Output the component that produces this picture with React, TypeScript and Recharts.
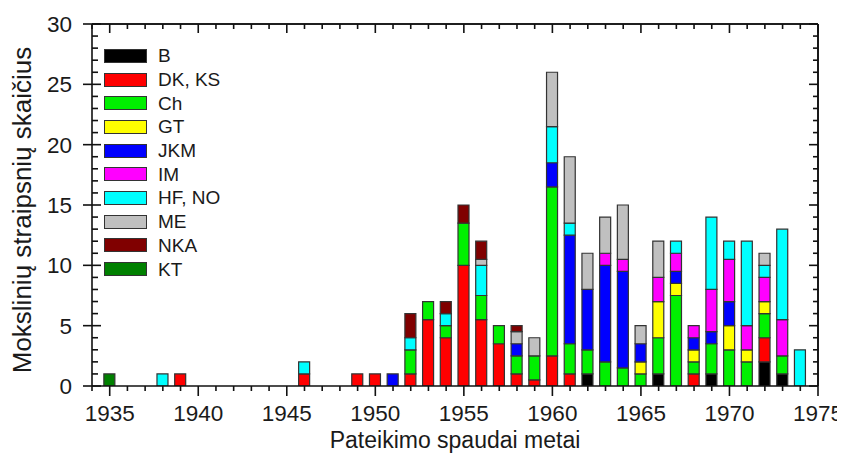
import React from "react";
import { ComposedChart, Bar, Line, XAxis, YAxis, Legend, ReferenceLine } from "recharts";

const years = [1935, 1938, 1939, 1946, 1949, 1950, 1951, 1952, 1953, 1954, 1955, 1956, 1957, 1958, 1959, 1960, 1961, 1962, 1963, 1964, 1965, 1966, 1967, 1968, 1969, 1970, 1971, 1972, 1973, 1974];

const seriesB   = [0, 0, 0, 0, 0, 0, 0, 0, 0, 0, 0, 0, 0, 0, 0, 0, 0, 1, 0, 0, 0, 1, 0, 0, 1, 0, 0, 2, 1, 0];
const seriesDK  = [0, 0, 1, 1, 1, 1, 0, 1, 5.5, 4, 10, 5.5, 3.5, 1, 0.5, 2.5, 1, 0, 0, 0, 0, 0, 0, 1, 0, 0, 0, 2, 0, 0];
const seriesCh  = [0, 0, 0, 0, 0, 0, 0, 2, 1.5, 1, 3.5, 2, 1.5, 1.5, 2, 14, 2.5, 2, 2, 1.5, 1, 3, 7.5, 1, 2.5, 3, 2, 2, 1.5, 0];
const seriesGT  = [0, 0, 0, 0, 0, 0, 0, 0, 0, 0, 0, 0, 0, 0, 0, 0, 0, 0, 0, 0, 1, 3, 1, 1, 0, 2, 1, 1, 0, 0];
const seriesJKM = [0, 0, 0, 0, 0, 0, 1, 0, 0, 0, 0, 0, 0, 1, 0, 2, 9, 5, 8, 8, 1.5, 0, 1, 1, 1, 2, 0, 0, 0, 0];
const seriesIM  = [0, 0, 0, 0, 0, 0, 0, 0, 0, 0, 0, 0, 0, 0, 0, 0, 0, 0, 1, 1, 0, 2, 1.5, 1, 3.5, 3.5, 2, 2, 3, 0];
const seriesHF  = [0, 1, 0, 1, 0, 0, 0, 1, 0, 1, 0, 2.5, 0, 0, 0, 3, 1, 0, 0, 0, 0, 0, 1, 0, 6, 1.5, 7, 1, 7.5, 3];
const seriesME  = [0, 0, 0, 0, 0, 0, 0, 0, 0, 0, 0, 0.5, 0, 1, 1.5, 4.5, 5.5, 3, 3, 4.5, 1.5, 3, 0, 0, 0, 0, 0, 1, 0, 0];
const seriesNKA = [0, 0, 0, 0, 0, 0, 0, 2, 0, 1, 1.5, 1.5, 0, 0.5, 0, 0, 0, 0, 0, 0, 0, 0, 0, 0, 0, 0, 0, 0, 0, 0];
const seriesKT  = [1, 0, 0, 0, 0, 0, 0, 0, 0, 0, 0, 0, 0, 0, 0, 0, 0, 0, 0, 0, 0, 0, 0, 0, 0, 0, 0, 0, 0, 0];

const seriesNames = ["B", "DK, KS", "Ch", "GT", "JKM", "IM", "HF, NO", "ME", "NKA", "KT"];
const seriesColors = ["#000000", "#ff0000", "#00f000", "#ffff00", "#0000ff", "#ff00ff", "#00ffff", "#c0c0c0", "#800000", "#008000"];
const seriesValues = [seriesB, seriesDK, seriesCh, seriesGT, seriesJKM, seriesIM, seriesHF, seriesME, seriesNKA, seriesKT];

const xTicks = Array.from({ length: 42 }, (_, i) => 1934 + i);
const yTicks = Array.from({ length: 31 }, (_, i) => i);

const xTitle = "Pateikimo spaudai metai";
const yTitle = "Mokslinių straipsnių skaičius";

const FONT = "'Liberation Sans', Arial, sans-serif";
const TEXT = "#1a1a1a";
const LW = 1.6;
const INK = "#111";

const data = years.map((year, i) => {
  const row: Record<string, number> = { year };
  seriesNames.forEach((n, s) => {
    row["s" + s] = seriesValues[s][i];
  });
  return row;
});

const num = (v: any) => Number(v);

const BottomTick = (props: any) => {
  const x = num(props.x);
  const y = num(props.y);
  const v = props.payload.value;
  const major = v % 5 === 0;
  return (
    <g>
      <line x1={x} x2={x} y1={y} y2={y + (major ? 10 : 5)} stroke={INK} strokeWidth={LW} />
      {major && (
        <text x={x} y={y + 35} textAnchor="middle" fontSize={22.5} fontFamily={FONT} fill={TEXT}>
          {v}
        </text>
      )}
    </g>
  );
};

const TopTick = (props: any) => {
  const x = num(props.x);
  const y = num(props.y);
  const major = props.payload.value % 5 === 0;
  return <line x1={x} x2={x} y1={y} y2={y + (major ? 9 : 5)} stroke={INK} strokeWidth={LW} />;
};

const LeftTick = (props: any) => {
  const x = num(props.x);
  const y = num(props.y);
  const v = props.payload.value;
  const major = v % 5 === 0;
  return (
    <g>
      <line x1={major ? x - 9 : x} x2={x + (major ? 9 : 6)} y1={y} y2={y} stroke={INK} strokeWidth={LW} />
      {major && (
        <text x={x - 20} y={y + 8} textAnchor="end" fontSize={22.5} fontFamily={FONT} fill={TEXT}>
          {v}
        </text>
      )}
    </g>
  );
};

const RightTick = (props: any) => {
  const x = num(props.x);
  const y = num(props.y);
  const major = props.payload.value % 5 === 0;
  const len = major ? 9 : 5;
  return <line x1={x - len} x2={x} y1={y} y2={y} stroke={INK} strokeWidth={LW} />;
};

const LegendContent = () => (
  <div style={{ fontFamily: FONT }}>
    {seriesNames.map((n, i) => (
      <div key={n} style={{ display: "flex", alignItems: "center", height: 23.7 }}>
        <div
          style={{
            width: 43,
            height: 14,
            background: seriesColors[i],
            border: "1.5px solid #333",
            boxSizing: "border-box",
          }}
        />
        <span style={{ marginLeft: 11, fontSize: 19, color: TEXT, lineHeight: 1 }}>{n}</span>
      </div>
    ))}
  </div>
);

export default function App() {
  return (
    <ComposedChart
      width={837}
      height={461}
      data={data}
      margin={{ top: 15, right: 26, left: 0, bottom: 0 }}
      barSize={11}
    >
      <XAxis
        dataKey="year"
        type="number"
        domain={[1934, 1975]}
        ticks={xTicks}
        interval={0}
        tickSize={0}
        tickMargin={0}
        tickLine={false}
        tick={BottomTick}
        axisLine={{ stroke: INK, strokeWidth: LW }}
        height={83}
        allowDataOverflow
        label={{
          content: (p: any) => {
            const vb = p.viewBox;
            return (
              <text
                x={vb.x + vb.width / 2}
                y={vb.y + 62}
                textAnchor="middle"
                fontSize={23}
                fontFamily={FONT}
                fill={TEXT}
              >
                {xTitle}
              </text>
            );
          },
        }}
      />
      <XAxis
        xAxisId="top"
        dataKey="year"
        orientation="top"
        type="number"
        domain={[1934, 1975]}
        ticks={xTicks}
        interval={0}
        tickSize={0}
        tickMargin={0}
        tickLine={false}
        tick={TopTick}
        axisLine={{ stroke: INK, strokeWidth: LW }}
        height={1}
        allowDataOverflow
      />
      <YAxis
        type="number"
        domain={[0, 30]}
        ticks={yTicks}
        interval={0}
        tickSize={0}
        tickMargin={0}
        tickLine={false}
        tick={LeftTick}
        axisLine={{ stroke: INK, strokeWidth: LW }}
        width={84}
        allowDataOverflow
        label={{
          content: (p: any) => {
            const vb = p.viewBox;
            const cx = vb.x + 14;
            const cy = vb.y + vb.height / 2 + 5;
            return (
              <text
                x={cx}
                y={cy}
                transform={`rotate(-90 ${cx} ${cy})`}
                textAnchor="middle"
                dominantBaseline="central"
                fontSize={26}
                fontFamily={FONT}
                fill={TEXT}
              >
                {yTitle}
              </text>
            );
          },
        }}
      />
      <YAxis
        yAxisId="right"
        orientation="right"
        type="number"
        domain={[0, 30]}
        ticks={yTicks}
        interval={0}
        tickSize={0}
        tickMargin={0}
        tickLine={false}
        tick={RightTick}
        axisLine={{ stroke: INK, strokeWidth: LW }}
        width={1}
        allowDataOverflow
      />
      <ReferenceLine y={30} stroke={INK} strokeWidth={LW} ifOverflow="visible" />
      <ReferenceLine x={1975} stroke={INK} strokeWidth={LW} ifOverflow="visible" />
      <Legend
        layout="vertical"
        align="center"
        verticalAlign="middle"
        content={LegendContent}
        wrapperStyle={{ left: 96, top: 36, width: "auto", height: "auto" }}
      />
      {seriesNames.map((n, i) => (
        <Bar
          key={n}
          dataKey={"s" + i}
          name={n}
          stackId="a"
          fill={seriesColors[i]}
          stroke="#333"
          strokeWidth={1.2}
          isAnimationActive={false}
        />
      ))}
      <Line
        xAxisId="top"
        yAxisId="right"
        dataKey="s9"
        stroke="none"
        dot={false}
        activeDot={false}
        legendType="none"
        isAnimationActive={false}
      />
    </ComposedChart>
  );
}
